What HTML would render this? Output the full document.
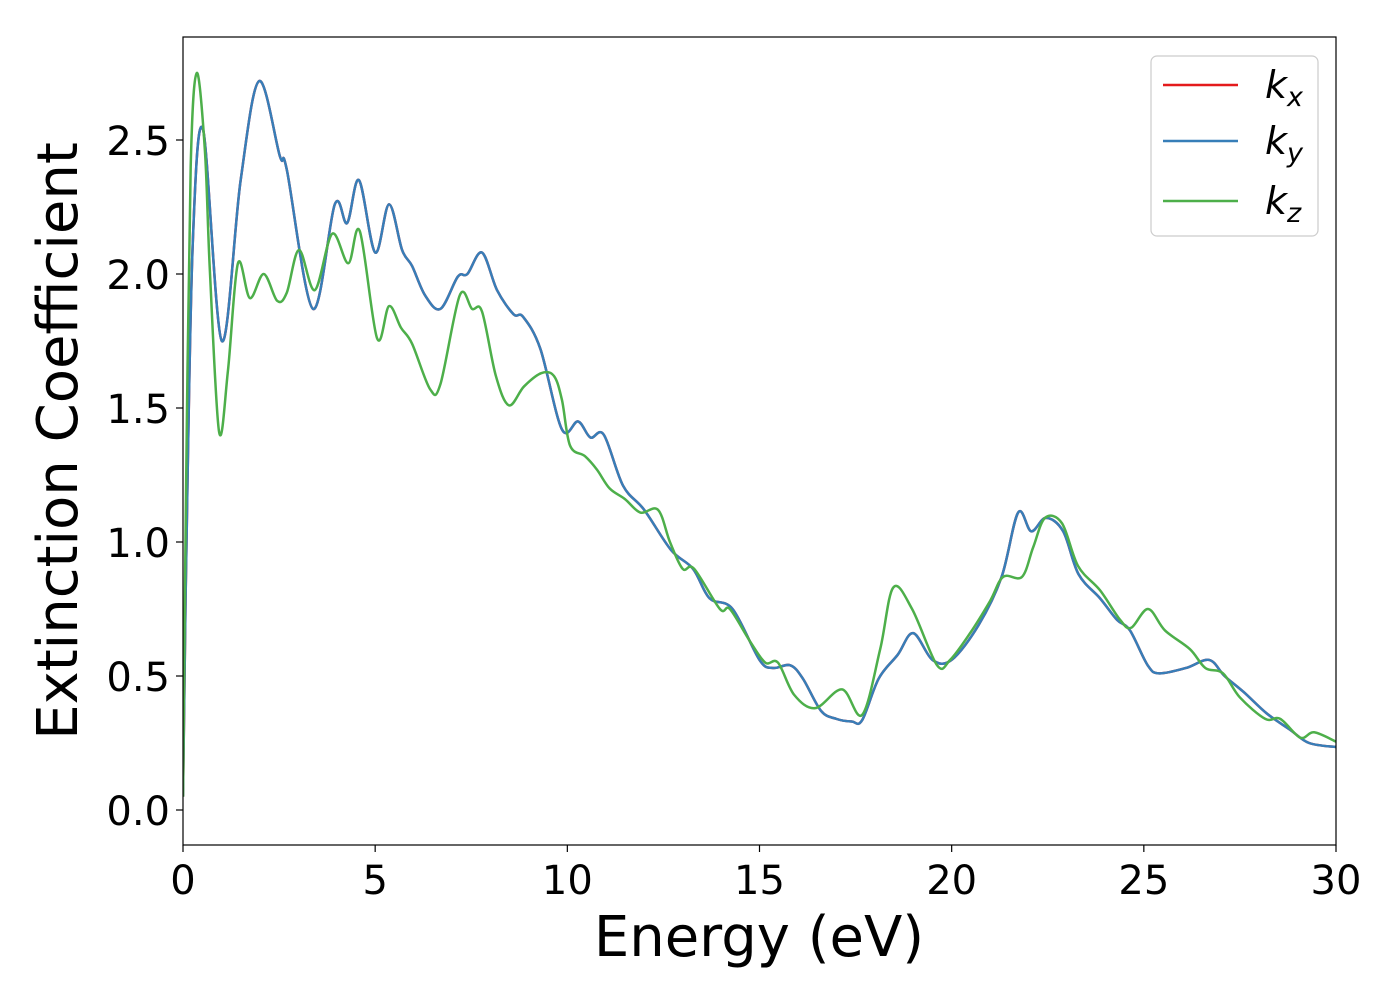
<!DOCTYPE html>
<html><head><meta charset="utf-8"><style>
html,body{margin:0;padding:0;background:#fff;}
svg{display:block;font-family:"DejaVu Sans","Liberation Sans",sans-serif;}
</style></head><body>
<svg id="chart" width="1400" height="1000" viewBox="0 0 1400 1000" xmlns="http://www.w3.org/2000/svg">
<rect width="1400" height="1000" fill="#fff"/>
<defs><clipPath id="clip"><rect x="183" y="37" width="1153" height="808"/></clipPath></defs>
<g id="xticks"></g>
<g id="yticks"></g>
<g id="series" clip-path="url(#clip)"></g>
<rect x="183" y="37" width="1153" height="808" fill="none" stroke="#000" stroke-width="1.2"/>
<text x="759" y="956" font-size="56" text-anchor="middle">Energy (eV)</text>
<text transform="translate(77,441) rotate(-90)" font-size="56" text-anchor="middle">Extinction Coefficient</text>
<g>
<rect x="1151" y="56" width="167" height="180" rx="6" fill="#fff" fill-opacity="0.8" stroke="#ccc" stroke-width="1.2"/>
<g><line x1="1163" y1="85" x2="1238" y2="85" stroke="#e41a1c" stroke-width="2.5"/><text x="1265" y="98" font-size="38" font-style="italic">k<tspan font-size="27" dy="8">x</tspan></text></g>
<g><line x1="1163" y1="141" x2="1238" y2="141" stroke="#377eb8" stroke-width="2.5"/><text x="1265" y="154" font-size="38" font-style="italic">k<tspan font-size="27" dy="8">y</tspan></text></g>
<g><line x1="1163" y1="201" x2="1238" y2="201" stroke="#4daf4a" stroke-width="2.5"/><text x="1265" y="214" font-size="38" font-style="italic">k<tspan font-size="27" dy="8">z</tspan></text></g>
</g>
</svg>
<script>
const xTicks=[0,5,10,15,20,25,30];
const yTicks=[0.0,0.5,1.0,1.5,2.0,2.5];
const kxyE=[0,0.08,0.25,0.52,1.01,1.5,1.98,2.52,2.7,3.38,3.95,4.27,4.58,5.0,5.36,5.7,5.96,6.3,6.7,7.15,7.4,7.78,8.17,8.6,8.85,9.3,9.86,10.28,10.6,10.95,11.45,12.0,12.7,13.27,13.7,14.3,15.0,15.35,15.8,16.13,16.6,17.0,17.4,17.67,18.1,18.6,19.0,19.5,20.0,20.7,21.3,21.73,22.07,22.45,22.9,23.3,23.86,24.3,24.64,25.1,25.4,26.1,26.7,27.1,27.6,28.2,28.8,29.3,30];
const kxyV=[0.05,0.9,2.1,2.54,1.75,2.35,2.72,2.44,2.39,1.87,2.26,2.19,2.35,2.08,2.26,2.09,2.03,1.92,1.87,1.99,2.0,2.08,1.94,1.85,1.84,1.72,1.42,1.45,1.39,1.40,1.21,1.12,0.97,0.90,0.79,0.75,0.56,0.53,0.54,0.49,0.37,0.34,0.33,0.335,0.49,0.58,0.66,0.56,0.56,0.69,0.87,1.11,1.04,1.09,1.04,0.88,0.79,0.71,0.67,0.54,0.51,0.53,0.56,0.50,0.44,0.36,0.30,0.25,0.235];
const kzE=[0,0.08,0.2,0.36,0.57,0.7,0.94,1.17,1.43,1.74,2.1,2.45,2.7,3.02,3.43,3.88,4.3,4.6,5.05,5.36,5.67,5.96,6.43,6.7,7.2,7.52,7.78,8.14,8.48,8.87,9.32,9.65,9.86,10.07,10.46,10.77,11.1,11.5,11.9,12.36,12.67,13.0,13.3,13.97,14.23,14.75,15.15,15.48,15.9,16.45,17.15,17.67,18.14,18.48,18.97,19.62,19.96,20.48,21.0,21.34,21.83,22.12,22.43,22.87,23.29,23.86,24.38,24.67,25.11,25.55,26.2,26.6,27.06,27.5,28.16,28.55,29.07,29.43,30];
const kzV=[0.05,1.2,2.4,2.75,2.46,2.01,1.41,1.64,2.04,1.91,2.0,1.9,1.93,2.09,1.94,2.15,2.04,2.16,1.76,1.88,1.80,1.74,1.57,1.59,1.92,1.87,1.86,1.62,1.51,1.58,1.63,1.62,1.53,1.36,1.32,1.27,1.20,1.16,1.11,1.12,1.0,0.90,0.90,0.75,0.75,0.63,0.55,0.55,0.43,0.38,0.45,0.355,0.60,0.83,0.75,0.54,0.56,0.66,0.78,0.87,0.87,0.98,1.09,1.07,0.91,0.82,0.71,0.68,0.75,0.67,0.60,0.53,0.51,0.42,0.34,0.34,0.27,0.29,0.255];
const NS="http://www.w3.org/2000/svg";
function xs(e){return 183+e*(1153/30);}
function ys(v){return 810-v*268;}
function pathFor(E,V){
  const p=E.map((e,i)=>[xs(e),ys(V[i])]);
  let d="M"+p[0][0]+","+p[0][1];
  for(let i=0;i<p.length-1;i++){
    const p0=p[Math.max(0,i-1)],p1=p[i],p2=p[i+1],p3=p[Math.min(p.length-1,i+2)];
    const c1=[p1[0]+(p2[0]-p0[0])/6,p1[1]+(p2[1]-p0[1])/6];
    const c2=[p2[0]-(p3[0]-p1[0])/6,p2[1]-(p3[1]-p1[1])/6];
    d+=" C"+c1[0]+","+c1[1]+" "+c2[0]+","+c2[1]+" "+p2[0]+","+p2[1];
  }
  return d;
}
const s=document.getElementById("series");
[["kx",kxyE,kxyV,"#e41a1c"],["ky",kxyE,kxyV,"#377eb8"],["kz",kzE,kzV,"#4daf4a"]].forEach(a=>{
  const el=document.createElementNS(NS,"path");
  el.setAttribute("d",pathFor(a[1],a[2]));
  el.setAttribute("fill","none");el.setAttribute("stroke",a[3]);el.setAttribute("stroke-width","2.5");
  
  
  s.appendChild(el);
});
const gx=document.getElementById("xticks");
xTicks.forEach(t=>{
  const l=document.createElementNS(NS,"line");
  l.setAttribute("x1",xs(t));l.setAttribute("x2",xs(t));l.setAttribute("y1",845);l.setAttribute("y2",852);l.setAttribute("stroke","#000");l.setAttribute("stroke-width","1.2");
  
  
  gx.appendChild(l);
  const tx=document.createElementNS(NS,"text");
  tx.setAttribute("x",xs(t));tx.setAttribute("y",894);tx.setAttribute("font-size","40");tx.setAttribute("text-anchor","middle");
  tx.textContent=String(t);
  
  
  gx.appendChild(tx);
});
const gy=document.getElementById("yticks");
yTicks.forEach(t=>{
  const l=document.createElementNS(NS,"line");
  l.setAttribute("x1",176);l.setAttribute("x2",183);l.setAttribute("y1",ys(t));l.setAttribute("y2",ys(t));l.setAttribute("stroke","#000");l.setAttribute("stroke-width","1.2");
  
  
  gy.appendChild(l);
  const tx=document.createElementNS(NS,"text");
  tx.setAttribute("x",170);tx.setAttribute("y",ys(t)+15);tx.setAttribute("font-size","40");tx.setAttribute("text-anchor","end");
  tx.textContent=t.toFixed(1);
  
  
  gy.appendChild(tx);
});
</script>
</body></html>
